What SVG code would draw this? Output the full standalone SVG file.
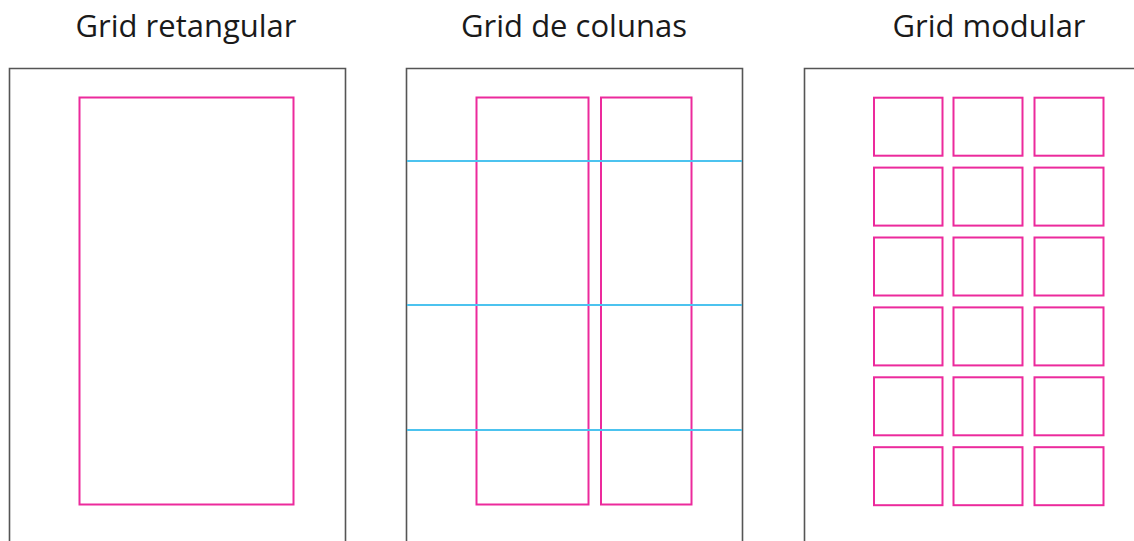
<svg xmlns="http://www.w3.org/2000/svg" width="1134" height="541" viewBox="0 0 1134 541">
<style>
.t{font-family:"Open Sans","Liberation Sans",sans-serif;font-size:31px;font-weight:500;fill:#1a1a1a;text-anchor:middle}
.pg{fill:none;stroke:#555;stroke-width:1.6}
.m{fill:none;stroke:#ec2a9c;stroke-width:2}
.b{stroke:#4cc3ef;stroke-width:2}
</style>
<rect width="1134" height="541" fill="#fff"/>
<g id="panel-retangular">
<text class="t" x="186" y="37">Grid retangular</text>
<path class="pg" d="M9.5 545V68.5H345.5V545"/>
<rect class="m" x="79.5" y="97.5" width="214" height="407"/>
</g>
<g id="panel-colunas">
<text class="t" x="574" y="37">Grid de colunas</text>
<path class="pg" d="M406.5 545V68.5H742.5V545"/>
<rect class="m" x="476.5" y="97.5" width="112" height="407"/>
<rect class="m" x="601" y="97.5" width="90.5" height="407"/>
<line class="b" x1="407" y1="161" x2="742" y2="161"/>
<line class="b" x1="407" y1="305" x2="742" y2="305"/>
<line class="b" x1="407" y1="430" x2="742" y2="430"/>
</g>
<g id="panel-modular">
<text class="t" x="989" y="37">Grid modular</text>
<path class="pg" d="M804.5 545V68.5H1140"/>
<g id="modules">
<rect class="m" x="874" y="97.7" width="68.5" height="58"/>
<rect class="m" x="953.5" y="97.7" width="69" height="58"/>
<rect class="m" x="1034.5" y="97.7" width="69" height="58"/>
<rect class="m" x="874" y="167.6" width="68.5" height="58"/>
<rect class="m" x="953.5" y="167.6" width="69" height="58"/>
<rect class="m" x="1034.5" y="167.6" width="69" height="58"/>
<rect class="m" x="874" y="237.5" width="68.5" height="58"/>
<rect class="m" x="953.5" y="237.5" width="69" height="58"/>
<rect class="m" x="1034.5" y="237.5" width="69" height="58"/>
<rect class="m" x="874" y="307.4" width="68.5" height="58"/>
<rect class="m" x="953.5" y="307.4" width="69" height="58"/>
<rect class="m" x="1034.5" y="307.4" width="69" height="58"/>
<rect class="m" x="874" y="377.3" width="68.5" height="58"/>
<rect class="m" x="953.5" y="377.3" width="69" height="58"/>
<rect class="m" x="1034.5" y="377.3" width="69" height="58"/>
<rect class="m" x="874" y="447.2" width="68.5" height="58"/>
<rect class="m" x="953.5" y="447.2" width="69" height="58"/>
<rect class="m" x="1034.5" y="447.2" width="69" height="58"/>
</g>
</g>
</svg>
